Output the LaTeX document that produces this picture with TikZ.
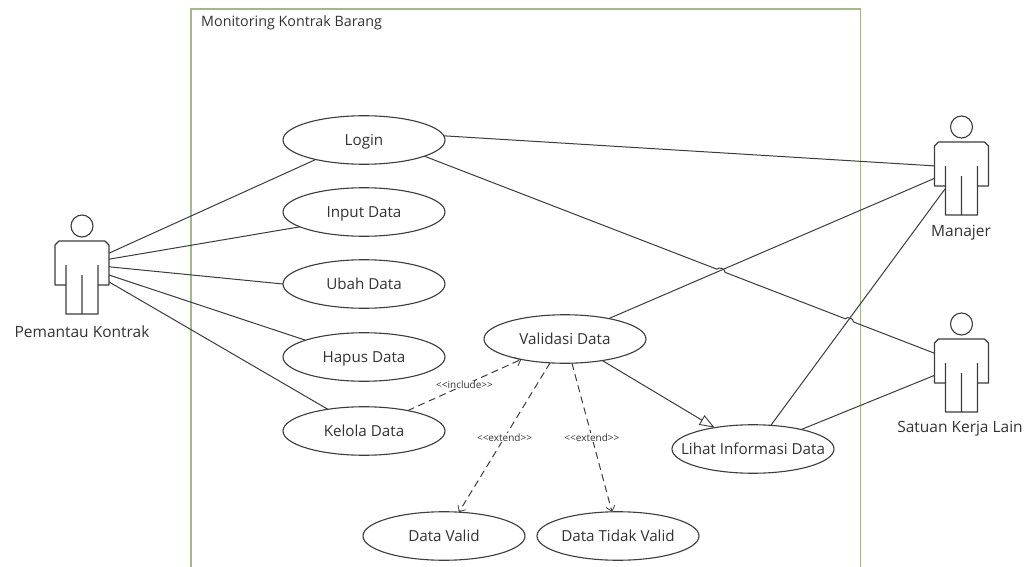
\documentclass[tikz,border=0pt]{standalone}
\usepackage{fontspec}
\setmainfont{Open Sans}
\usetikzlibrary{arrows.meta,calc,shapes.geometric}
\definecolor{ink}{HTML}{3C3C3C}
\definecolor{txt}{HTML}{333333}
\definecolor{frame}{HTML}{A3B888}
\tikzset{
  x=1pt,y=-1pt,
  usecase/.style={draw=ink,line width=1.1pt,ellipse,minimum width=162pt,minimum height=48.5pt,inner xsep=-20pt,inner ysep=0pt,outer sep=0pt,text=txt,text height=11.5pt,text depth=0pt,font=\fontsize{15.2}{17}\selectfont},
  link/.style={draw=ink,line width=1pt},
  dep/.style={draw=ink,line width=1pt,dash pattern=on 7pt off 4.5pt,-{Straight Barb[length=5pt,width=9pt,line width=.8pt]}},
  gen/.style={draw=ink,line width=1pt,-{Triangle[open,length=15pt,width=11pt,fill=white,line width=.9pt]}},
  stereo/.style={fill=white,inner sep=.5pt,text=txt,font=\fontsize{10}{12}\selectfont},
  actorname/.style={text=txt,inner sep=0pt,font=\fontsize{15.5}{18}\selectfont},
  actor/.pic={
    \draw[ink,line width=1.1pt] (0,-15) circle[radius=11];
    \draw[ink,line width=1.1pt,line join=round]
      (-16,44) -- (-16,24) (-16,44) -- (-27,44) -- (-27,4) -- (-23,0) -- (23,0) -- (27,4) -- (27,44) -- (16,44) -- (16,24)
      (-16,44) -- (-16,73) -- (16,73) -- (16,44)
      (0,34) -- (0,73);
    \node[minimum width=54pt,minimum height=44pt,inner sep=0pt,outer sep=0pt] (-body) at (0,22) {};
    \coordinate (-hip) at (-16.5,47);
  }
}
\begin{document}
\begin{tikzpicture}
\useasboundingbox (0,0) rectangle (1028,567);
\fill[white] (0,0) rectangle (1028,567);
\draw[frame,line width=1.1pt] (191,567) -- (191,9) -- (860.5,9) -- (860.5,567);
\node[anchor=west,text=txt,inner sep=0pt,font=\fontsize{14.3}{16}\selectfont] (title) at (201,23) {Monitoring Kontrak Barang};

\pic (pk) at (82,241) {actor};
\pic (mj) at (961.5,142) {actor};
\pic (sk) at (961.5,339) {actor};
\node[actorname] (pkname) at (82,332) {Pemantau Kontrak};
\node[actorname] (mjname) at (961,233) {Manajer};
\node[actorname] (skname) at (960,429) {Satuan Kerja Lain};

\node[usecase] (login) at (364,140) {Login};
\node[usecase] (input) at (364,212) {Input Data};
\node[usecase] (ubah) at (364,284) {Ubah Data};
\node[usecase] (hapus) at (364,357) {Hapus Data};
\node[usecase] (kelola) at (364,431) {Kelola Data};
\node[usecase] (valid) at (565,339) {Validasi Data};
\node[usecase] (lihat) at (753,449) {Lihat Informasi Data};
\node[usecase] (dv) at (444,536) {Data Valid};
\node[usecase] (dtv) at (618,536) {Data Tidak Valid};

\draw[link] (pk-body.20) -- (login.202);
\draw[link] (pk-body.8) -- (input.193);
\draw[link] (pk-body.-8) -- (ubah.180);
\draw[link] (pk-body.-24) -- (hapus.164);
\draw[link] (pk-body.-35) -- (kelola.149);

\draw[link] (login.3) -- (mj-body.184);
\draw[link] (login.-15)
  -- ($(login.-15)!.5735!(sk-body.164)$) to[bend left=75] ($(login.-15)!.5895!(sk-body.164)$)
  -- ($(login.-15)!.825!(sk-body.164)$) to[bend left=75] ($(login.-15)!.841!(sk-body.164)$)
  -- (sk-body.164);
\draw[link] (valid.25) -- (mj-body.208);
\draw[link] (lihat.53) -- (mj-hip);
\draw[link] (lihat.22) -- (sk-body.208);
\draw[gen] (valid.-30) -- (lihat.151);

\draw[dep] (kelola.25) -- (valid.205) node[stereo,pos=.5] (inc) {<{}<include>{}>};
\draw[dep] (valid.238) -- (dv.58) node[stereo,pos=.5] (ext1) {<{}<extend>{}>};
\draw[dep] (valid.-74) -- (dtv.104) node[stereo,pos=.5] (ext2) {<{}<extend>{}>};
\end{tikzpicture}
\end{document}
